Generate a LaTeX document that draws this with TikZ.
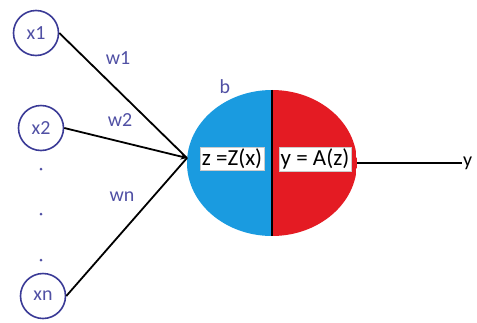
\documentclass[tikz,border=0pt]{standalone}
\usepackage{fontspec}
\setmainfont{Carlito}
\usepackage{tikz}
\usetikzlibrary{shapes.geometric, arrows, positioning, calc}
\definecolor{inkblue}{HTML}{5050A4}
\definecolor{ringblue}{HTML}{3A3A96}
\definecolor{halfblue}{HTML}{1A9BE0}
\definecolor{halfred}{HTML}{E41B23}
\tikzstyle{input} = [circle, draw=ringblue, line width=1.6pt, minimum size=45pt, inner sep=0pt, text=inkblue, font=\fontsize{20}{20}\selectfont]
\tikzstyle{weight} = [text=inkblue, font=\fontsize{20}{20}\selectfont]
\tikzstyle{link} = [line width=1.8pt]
\tikzstyle{arrow} = [line width=1.8pt,->,>=stealth]
\tikzstyle{labelbox} = [rectangle, fill=white, draw=gray!40, inner sep=1.5pt, font=\fontsize{23}{23}\selectfont]

\begin{document}
\begin{tikzpicture}[x=1pt, y=-1pt]
    \useasboundingbox (0,0) rectangle (477,322);

    % Entradas
    \node (x1) [input] at (36,33) {x1};
    \node (x2) [input] at (41,128) {x2};
    \node (xn) [input] at (43,296) {xn};
    \foreach \yy in {169,214,260}
        \fill[inkblue] (41,\yy) circle (1.5pt);

    % Neurona
    \node (neuron) [ellipse, minimum width=170pt, minimum height=146pt,
        path picture={
            \fill[halfblue] (path picture bounding box.south west) rectangle (path picture bounding box.north);
            \fill[halfred] (path picture bounding box.south) rectangle (path picture bounding box.north east);
        }] at (272,163) {};
    \draw [link] (neuron.north) -- (neuron.south);
    \coordinate (in) at (187,158);
    \node (bias) [weight] at (225,87) {b};

    % Funciones
    \node (zfun) [labelbox] at (232,159) {z =Z(x)};
    \node (afun) [labelbox] at (315,159) {y = A(z)};

    % Pesos
    \node (w1) [weight] at (118,58) {w1};
    \node (w2) [weight] at (120,120) {w2};
    \node (wn) [weight] at (122,197) {wn};

    % Salida
    \node (yout) [anchor=west, inner sep=1pt, font=\fontsize{20}{20}\selectfont] at (462,163) {y};

    % Flechas
    \draw [link] (x1.east) -- (in);
    \draw [arrow] (x2.east) -- (in);
    \draw [link] (xn.east) -- (in);
    \draw [link] (neuron.east) -- (yout.west);
\end{tikzpicture}
\end{document}
